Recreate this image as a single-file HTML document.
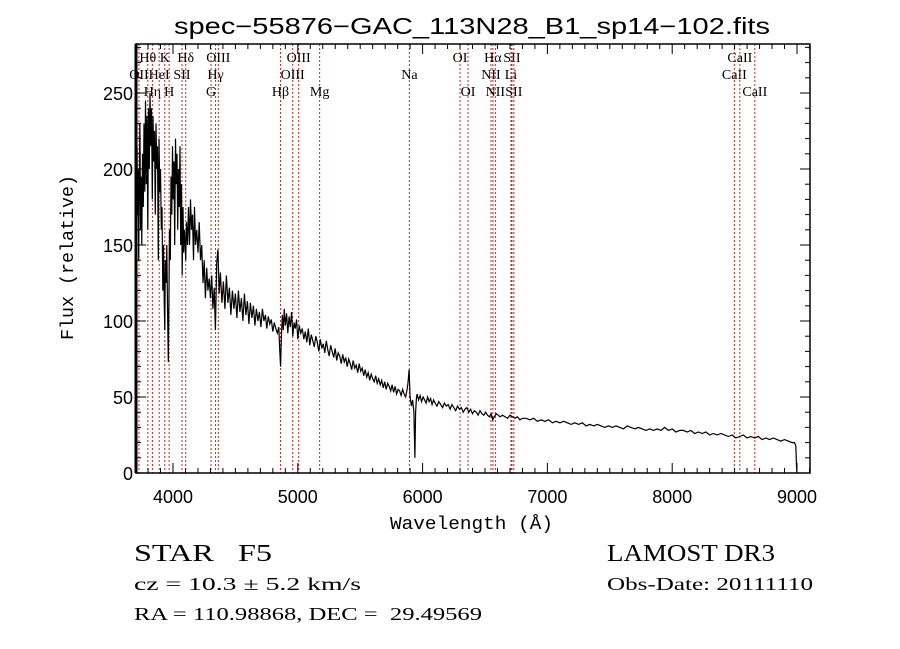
<!DOCTYPE html>
<html><head><meta charset="utf-8">
<style>
body{margin:0;background:#fff;}
svg{display:block;}
text{fill:#000;}
</style></head>
<body>
<svg id="chart" width="900" height="649" viewBox="0 0 900 649" xmlns="http://www.w3.org/2000/svg">
<rect x="0" y="0" width="900" height="649" fill="#fff"/>
<text x="174" y="34" textLength="596" lengthAdjust="spacingAndGlyphs" font-family="Liberation Sans, sans-serif" font-size="23">spec−55876−GAC_113N28_B1_sp14−102.fits</text>
<g id="lines"></g>
<g id="spec"></g>
<g id="axes"></g>
<text x="390" y="529" textLength="163" lengthAdjust="spacingAndGlyphs" font-family="Liberation Mono, monospace" font-size="18">Wavelength (Å)</text>
<text transform="translate(73,340) rotate(-90)" textLength="165" lengthAdjust="spacingAndGlyphs" font-family="Liberation Mono, monospace" font-size="18">Flux (relative)</text>
<text x="134" y="561" textLength="138" lengthAdjust="spacingAndGlyphs" font-family="Liberation Serif, serif" font-size="24">STAR&#160;&#160;&#160;F5</text>
<text x="134" y="590" textLength="227" lengthAdjust="spacingAndGlyphs" font-family="Liberation Serif, serif" font-size="18">cz = 10.3 ± 5.2 km/s</text>
<text x="134" y="620" textLength="348" lengthAdjust="spacingAndGlyphs" font-family="Liberation Serif, serif" font-size="18">RA = 110.98868, DEC =&#160;&#160;29.49569</text>
<text x="607" y="561" textLength="168" lengthAdjust="spacingAndGlyphs" font-family="Liberation Serif, serif" font-size="24">LAMOST DR3</text>
<text x="607" y="590" textLength="206" lengthAdjust="spacingAndGlyphs" font-family="Liberation Serif, serif" font-size="18">Obs-Date: 20111110</text>
</svg>
<script>
const wave = [
3700,3704,3708,3712,3716,3720,3725,3730,3735,3740,
3745,3750,3756,3762,3768,3774,3780,3786,3792,3798,
3804,3810,3816,3822,3828,3834,3840,3846,3852,3858,
3864,3870,3876,3882,3888,3894,3900,3906,3912,3918,
3924,3930,3934,3938,3944,3950,3956,3962,3968,3972,
3978,3984,3990,3996,4002,4008,4014,4020,4026,4032,
4038,4044,4050,4056,4062,4068,4074,4080,4086,4092,
4098,4102,4108,4116,4124,4132,4140,4148,4156,4164,
4172,4180,4190,4200,4210,4220,4230,4240,4250,4260,
4270,4280,4290,4300,4310,4320,4330,4340,4350,4360,
4370,4380,4392,4404,4416,4428,4440,4452,4464,4476,
4488,4500,4512,4524,4536,4548,4560,4572,4584,4596,
4608,4620,4632,4644,4656,4668,4680,4692,4704,4716,
4728,4740,4752,4764,4776,4788,4800,4812,4824,4836,
4848,4856,4862,4868,4876,4884,4892,4900,4910,4920,
4930,4940,4950,4960,4970,4980,4990,5000,5012,5024,
5036,5048,5060,5072,5084,5096,5108,5120,5132,5144,
5156,5168,5180,5192,5204,5216,5228,5240,5252,5264,
5276,5288,5300,5312,5324,5336,5348,5360,5372,5384,
5396,5408,5420,5432,5444,5456,5468,5480,5492,5504,
5516,5528,5540,5552,5564,5576,5588,5600,5612,5624,
5636,5648,5660,5672,5684,5696,5708,5720,5732,5744,
5756,5768,5780,5792,5804,5816,5828,5840,5852,5864,
5876,5884,5892,5900,5910,5920,5930,5938,5944,5950,
5956,5968,5980,5992,6004,6016,6028,6040,6052,6064,
6076,6088,6100,6115,6130,6145,6160,6175,6190,6205,
6220,6235,6250,6265,6280,6295,6310,6325,6340,6355,
6370,6385,6400,6415,6430,6445,6460,6475,6490,6505,
6520,6535,6550,6562,6575,6590,6605,6620,6640,6660,
6680,6700,6720,6740,6760,6780,6800,6830,6860,6890,
6920,6950,6980,7010,7040,7070,7100,7130,7160,7190,
7220,7250,7280,7310,7340,7370,7400,7430,7460,7490,
7520,7550,7580,7610,7640,7670,7700,7730,7760,7790,
7820,7850,7880,7910,7940,7970,8000,8030,8060,8090,
8120,8150,8180,8210,8240,8270,8300,8330,8360,8390,
8420,8450,8480,8510,8540,8570,8600,8630,8660,8690,
8720,8750,8780,8810,8840,8870,8900,8930,8960,8980,
8990,8996,8999];
const flux = [
60,5,150,215,170,200,140,190,230,160,
195,150,210,175,230,185,245,190,235,160,
240,200,250,215,240,180,235,205,225,170,
230,200,215,140,220,185,200,160,175,120,
150,110,94,140,125,150,110,73,120,160,
140,195,170,215,180,205,150,220,190,210,
160,200,175,215,150,190,130,175,145,160,
150,140,165,150,175,150,180,160,170,140,
175,150,160,145,165,140,150,125,140,115,
135,120,128,115,130,108,122,94,138,147,
118,132,112,126,108,130,112,122,104,120,
108,118,102,120,106,115,100,118,104,113,
98,112,102,110,97,108,100,106,96,108,
100,104,95,103,98,101,93,99,95,92,
96,80,70,88,104,94,108,97,105,92,
103,96,106,90,99,95,101,88,97,92,
95,88,93,86,95,84,91,87,83,90,
86,80,88,82,85,79,87,81,77,84,
80,76,82,74,79,77,72,78,73,76,
70,75,72,68,74,69,71,66,72,67,
69,64,68,63,66,61,65,62,60,64,
59,62,58,61,56,60,55,59,57,54,
58,53,57,52,55,54,51,55,52,50,
55,60,68,50,44,48,40,10,40,49,
52,48,51,47,50,48,46,50,47,49,
45,48,46,44,47,45,43,46,44,45,
42,45,43,41,44,42,43,40,42,43,
40,42,39,41,40,38,41,39,38,40,
38,37,39,35,37,39,38,37,38,37,
36,38,37,36,37,35,36,36,35,36,
34,35,34,35,33,34,33,34,33,32,
33,32,33,31,32,31,32,31,30,31,
30,31,30,29,31,30,29,30,29,28,
29,28,29,28,30,28,29,27,28,28,
27,28,26,27,26,27,25,26,25,26,
25,24,25,23,24,25,23,24,23,24,
22,23,22,23,22,21,22,21,20,20,
18,5,0];
const lineWave = [3727,3798,3835,3889,3934,3969,4072,4102,4305,4341,4363,4861,4959,5007,5175,5894,6300,6364,6548,6563,6583,6708,6716,6731,8498,8542,8662];
const lineLabels = ["OII","Hθ","Hη","HeI","K","H","SII","Hδ","G","Hγ","OIII","Hβ","OIII","OIII","Mg","Na","OI","OI","NII","Hα","NII","Li","SII","SII","CaII","CaII","CaII"];
const lineRow = [1,0,2,1,0,2,1,0,2,1,0,2,1,0,2,1,0,2,1,0,2,1,0,2,1,0,2];
const xTicks = [4000,5000,6000,7000,8000,9000];
const yTicks = [0,50,100,150,200,250];

const L=136,R=810,T=44,B=473;
const X=w=>173+(w-4000)*0.1248;
const Y=f=>B-f*1.52;
const NS='http://www.w3.org/2000/svg';
function mk(tag,attrs,parent){const e=document.createElementNS(NS,tag);for(const k in attrs)e.setAttribute(k,attrs[k]);parent.appendChild(e);return e;}
const lines=document.getElementById('lines');
lineWave.forEach((w,i)=>{
  const x=X(w);
  const ln=mk('line',{x1:x,x2:x,y1:T,y2:B,stroke:'#c0281e','stroke-width':1,'stroke-dasharray':'2,2'},lines);
  
  
  const t=mk('text',{x:x,y:62+lineRow[i]*17,'text-anchor':'middle','font-family':'Liberation Serif, serif','font-size':14},lines);
  t.textContent=lineLabels[i];
  
  
});
const spec=document.getElementById('spec');
let d='';
wave.forEach((w,i)=>{d+=(i?'L':'M')+X(w).toFixed(1)+','+Y(flux[i]).toFixed(1);});
const p=mk('path',{d:d,fill:'none',stroke:'#000','stroke-width':1.2},spec);


const ax=document.getElementById('axes');
const fr=mk('rect',{x:L,y:T,width:R-L,height:B-T,fill:'none',stroke:'#000','stroke-width':1.5},ax);


mk('line',{x1:L,x2:L,y1:T,y2:B,stroke:'#000','stroke-width':3},ax);
for(let w=3800;w<=9100;w+=100){
  const x=X(w);if(x<L||x>R)continue;
  const len=(w%1000===0)?10:5;
  mk('line',{x1:x,x2:x,y1:B,y2:B-len,stroke:'#000'},ax);
  mk('line',{x1:x,x2:x,y1:T,y2:T+len,stroke:'#000'},ax);
}
xTicks.forEach(w=>{
  const t=mk('text',{x:X(w)-20,y:B+30,textLength:40,lengthAdjust:'spacingAndGlyphs','font-family':'Liberation Sans, sans-serif','font-size':18},ax);
  t.textContent=w;
  
  
});
for(let f=0;f<=280;f+=10){
  const y=Y(f);if(y<T)continue;
  const len=(f%50===0)?10:5;
  mk('line',{x1:L,x2:L+len,y1:y,y2:y,stroke:'#000'},ax);
  mk('line',{x1:R,x2:R-len,y1:y,y2:y,stroke:'#000'},ax);
}
yTicks.forEach(f=>{
  const t=mk('text',{x:L-3,y:Y(f)+7,'text-anchor':'end','font-family':'Liberation Sans, sans-serif','font-size':18},ax);
  t.textContent=f;
  
  
});
</script>
</body></html>
